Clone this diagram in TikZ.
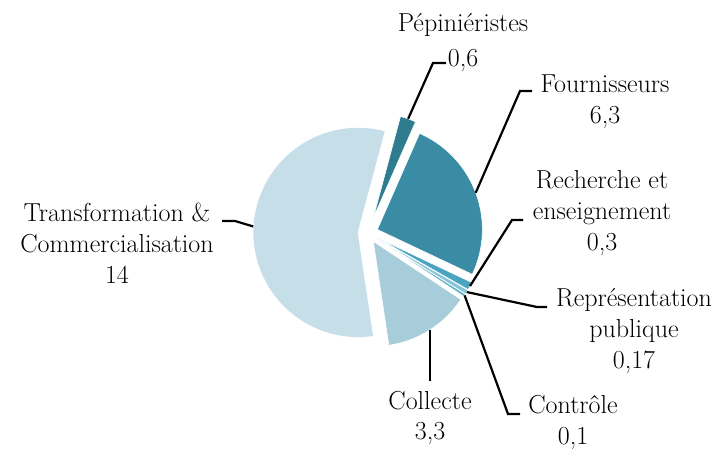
\documentclass[tikz,border=0pt]{standalone}
\definecolor{pep}{HTML}{2E7C8E}
\definecolor{fourn}{HTML}{3A8CA5}
\definecolor{rech}{HTML}{4AA3BF}
\definecolor{repr}{HTML}{86C5D7}
\definecolor{contr}{HTML}{55ADC7}
\definecolor{coll}{HTML}{A7CCDA}
\definecolor{transf}{HTML}{C5DEE8}
\begin{document}
\begin{tikzpicture}[x=1pt, y=-1pt,
		lbl/.style={align=center, anchor=base, inner sep=0pt, font=\fontsize{26}{31}\selectfont},
		leader/.style={draw=black, line width=2.2pt}]
	\useasboundingbox (0,0) rectangle (724,449);
	\pgfmathsetmacro{\rad}{105}
	% slices, clockwise from 75 degrees
	\begin{scope}[shift={(368,233)}, yscale=-1]
		\foreach \s/\e/\ex/\col/\n in {75/66.28/16/pep/1, 66.28/-25.29/10/fourn/2,
				-25.29/-29.65/10/rech/3, -29.65/-32.12/10/repr/4, -32.12/-33.57/10/contr/5,
				-33.57/-81.53/10/coll/6, -81.53/-285/10/transf/7}
			{
				\pgfmathsetmacro{\m}{(\s+\e)/2}
				\fill[\col, draw=white, line width=0.6pt] (\m:\ex) -- ++(\s:\rad)
				arc[start angle=\s, end angle=\e, radius=\rad] -- cycle;
				\coordinate (s\n) at (\m:{\ex+\rad});
			}
	\end{scope}
	% labels (anchored on the last line)
	\node[lbl] (pep) at (463,67) {Pépiniéristes\\[4pt]0,6};
	\node[lbl] (fourn) at (605,124) {Fournisseurs\\6,3};
	\node[lbl] (rech) at (602,251) {Recherche et\\enseignement\\0,3};
	\node[lbl] (repr) at (634,369) {Représentation\\publique\\0,17};
	\node[lbl] (contr) at (573,445) {Contrôle\\0,1};
	\node[lbl] (coll) at (430,440) {Collecte\\3,3};
	\node[lbl] (transf) at (117,284) {Transformation \&\\Commercialisation\\14};
	% leader lines
	\foreach \n/\kx/\ky/\tx in {1/433/63/446, 2/520/91/532, 3/512/220/523,
			4/537/307/547, 5/508/414/520, 7/235/221/222}
		{
			\coordinate (k\n) at (\kx,\ky);
			\coordinate (t\n) at (\tx,\ky);
			\draw[leader] (s\n) -- (k\n) -- (t\n);
		}
	\coordinate (k6) at (432,381);
	\draw[leader] (s6) -- (s6 |- k6);
\end{tikzpicture}
\end{document}
